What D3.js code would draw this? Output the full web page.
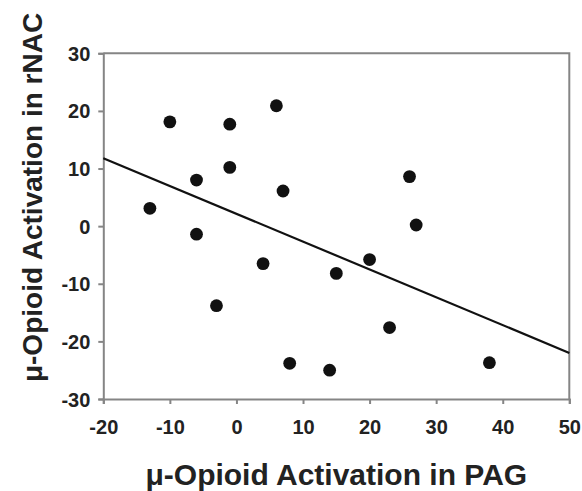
<!DOCTYPE html>
<html>
<head>
<meta charset="utf-8">
<script src="https://cdn.jsdelivr.net/npm/d3@7"></script>
<style>
  html, body { margin: 0; padding: 0; background: #fff; }
  svg { display: block; }
  text { font-family: "Liberation Sans", Arial, sans-serif; font-weight: bold; fill: #222; }
</style>
</head>
<body>
<svg id="chart" width="582" height="491"></svg>
<script>
// PAG vs rNAC mu-opioid activation, one point per subject
const pagValues  = [-13, -10, -6, -6, -3, -1, -1, 4, 6, 7, 8, 14, 15, 20, 23, 26, 27, 38];
const rnacValues = [3.1, 18.1, 8, -1.4, -13.8, 17.7, 10.2, -6.5, 20.9, 6.1, -23.8, -25, -8.2, -5.8, -17.6, 8.6, 0.2, -23.7];

// Regression line end points
const fitX = [-20, 50];
const fitY = [11.8, -22.0];

const xTicks = [-20, -10, 0, 10, 20, 30, 40, 50];
const yTicks = [-30, -20, -10, 0, 10, 20, 30];

const xTitle = "\u03bc-Opioid Activation in PAG";
const yTitle = "\u03bc-Opioid Activation in rNAC";

const svg = d3.select("#chart");
const plot = { left: 103.3, right: 569.3, top: 53.3, bottom: 399 };

const x = d3.scaleLinear().domain([-20, 50]).range([plot.left, plot.right]);
const y = d3.scaleLinear().domain([-30, 30]).range([plot.bottom, plot.top]);

const axisColor = "#858585";
// plain hyphen for negative tick values
const tickFmt = d => String(d);

// Frame: top and right edges
svg.append("path")
  .attr("d", `M${plot.left},${plot.top}H${plot.right}V${plot.bottom}`)
  .attr("fill", "none")
  .attr("stroke", axisColor)
  .attr("stroke-width", 2);

const xAxis = svg.append("g")
  .attr("transform", `translate(0,${plot.bottom})`)
  .call(d3.axisBottom(x).tickValues(xTicks).tickSize(5).tickPadding(16).tickFormat(tickFmt));

const yAxis = svg.append("g")
  .attr("transform", `translate(${plot.left},0)`)
  .call(d3.axisLeft(y).tickValues(yTicks).tickSize(5).tickPadding(8).tickFormat(tickFmt));

[xAxis, yAxis].forEach(g => {
  g.select(".domain").attr("stroke", axisColor).attr("stroke-width", 2);
  g.selectAll(".tick line").attr("stroke", axisColor).attr("stroke-width", 2);
  g.selectAll(".tick text")
    .attr("font-family", "Liberation Sans, Arial, sans-serif")
    .attr("font-weight", "bold")
    .attr("font-size", 20)
    .attr("fill", "#222");
});
yAxis.selectAll(".tick text").attr("dy", "0.35em");

// Fitted line
svg.append("line")
  .attr("x1", x(fitX[0])).attr("y1", y(fitY[0]))
  .attr("x2", x(fitX[1])).attr("y2", y(fitY[1]))
  .attr("stroke", "#111")
  .attr("stroke-width", 2.2);

// Data points
svg.append("g")
  .selectAll("circle")
  .data(pagValues.map((v, i) => [v, rnacValues[i]]))
  .join("circle")
  .attr("cx", d => x(d[0]))
  .attr("cy", d => y(d[1]))
  .attr("r", 6.4)
  .attr("fill", "#111");

// Axis titles
svg.append("text")
  .attr("x", (plot.left + plot.right) / 2)
  .attr("y", 485)
  .attr("text-anchor", "middle")
  .attr("font-size", 30)
  .text(xTitle);

svg.append("text")
  .attr("transform", `translate(42,${(12 + 383) / 2}) rotate(-90)`)
  .attr("text-anchor", "middle")
  .attr("font-size", 28)
  .text(yTitle);
</script>
</body>
</html>
